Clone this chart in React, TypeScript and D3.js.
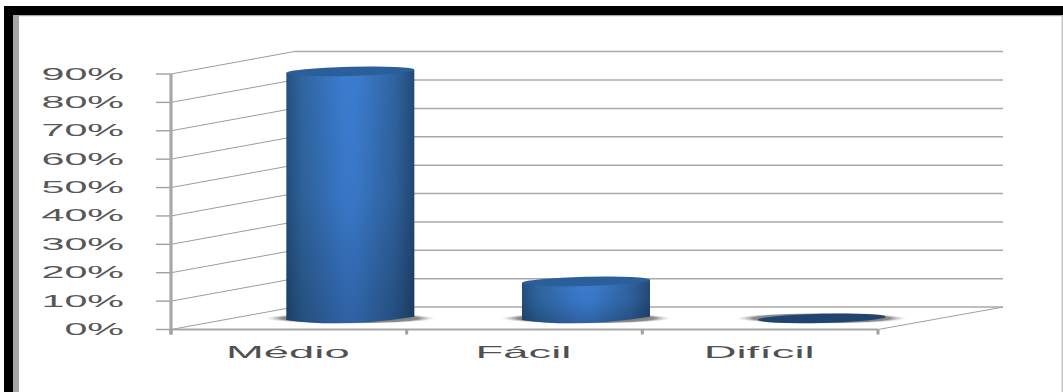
import React from "react";
import * as d3 from "d3";

const categories = ["Médio", "Fácil", "Difícil"];
const values = [87, 13, 0];
const tickValues = [0, 10, 20, 30, 40, 50, 60, 70, 80, 90];
const tickLabels = tickValues.map((t) => `${t}%`);

const WIDTH = 1063;
const HEIGHT = 392;
const DEPTH_X = 123;
const DEPTH_Y = 22.4;
const FONT = "'Liberation Sans', Arial, sans-serif";

const x = d3.scaleBand<string>().domain(categories).range([171, 878]);
const y = d3.scaleLinear().domain([0, 90]).range([329.5, 74]);

// Cylinders stand midway through the floor's depth.
const MID_X = DEPTH_X / 2;
const MID_Y = DEPTH_Y / 2;
const BAR_RX = 64;
const BAR_RY = 4.6;
const TILT = 1.6;

function cylinderBody(cx: number, topY: number, baseY: number): string {
  const p = d3.path();
  const l = cx - BAR_RX;
  const r = cx + BAR_RX;
  p.moveTo(l, topY + TILT);
  p.lineTo(l, baseY + TILT);
  p.quadraticCurveTo(cx - 10, baseY + BAR_RY * 2.1, r, baseY - TILT);
  p.lineTo(r, topY - TILT);
  p.closePath();
  return p.toString();
}

export default function App() {
  const tickEdges = [...categories.map((c) => x(c) as number), 878];
  return (
    <svg
      width={WIDTH}
      height={HEIGHT}
      viewBox={`0 0 ${WIDTH} ${HEIGHT}`}
      style={{ position: "absolute", left: 0, top: 0, display: "block", background: "#fff" }}
    >
      <defs>
        <linearGradient id="barSide" x1="0" x2="1" y1="0" y2="0">
          <stop offset="0" stopColor="#24507f" />
          <stop offset="0.12" stopColor="#2f659f" />
          <stop offset="0.45" stopColor="#3b7cd0" />
          <stop offset="0.55" stopColor="#3b7ccf" />
          <stop offset="0.85" stopColor="#2f63a0" />
          <stop offset="1" stopColor="#234a78" />
        </linearGradient>
        <linearGradient id="barFade" x1="0" x2="0" y1="0" y2="1">
          <stop offset="0" stopColor="#000" stopOpacity="0" />
          <stop offset="0.5" stopColor="#000" stopOpacity="0.05" />
          <stop offset="1" stopColor="#000" stopOpacity="0.22" />
        </linearGradient>
        <radialGradient id="floorShadow">
          <stop offset="0" stopColor="#666" />
          <stop offset="0.8" stopColor="#8c8c8c" />
          <stop offset="1" stopColor="#ddd" stopOpacity="0" />
        </radialGradient>
      </defs>

      {/* Picture frame */}
      <rect x={4} y={6} width={WIDTH - 4} height={9} fill="#000" />
      <rect x={4} y={6} width={9} height={HEIGHT - 6} fill="#000" />
      <rect x={13} y={15} width={6} height={HEIGHT - 15} fill="#a6a6a6" />
      <rect x={13} y={15} width={WIDTH - 13} height={1.2} fill="#a6a6a6" />
      <rect x={1061.5} y={15} width={1.5} height={HEIGHT - 15} fill="#c4c4c4" />

      {/* Back wall and side wall gridlines */}
      {tickValues.map((t) => (
        <g key={t} fill="none">
          <line
            x1={171 + DEPTH_X}
            x2={1003}
            y1={y(t) - DEPTH_Y}
            y2={y(t) - DEPTH_Y}
            stroke="#a8a8a8"
            strokeWidth={1.5}
          />
          <line
            x1={171}
            x2={171 + DEPTH_X}
            y1={y(t)}
            y2={y(t) - DEPTH_Y}
            stroke="#9c9c9c"
            strokeWidth={1}
          />
          <line x1={156} x2={171} y1={y(t)} y2={y(t)} stroke="#a0a0a0" strokeWidth={1.4} />
        </g>
      ))}

      {/* Floor edge and axes */}
      <line x1={878} x2={1003} y1={y(0)} y2={y(0) - DEPTH_Y} stroke="#a0a0a0" strokeWidth={1} />
      <line x1={171} x2={171} y1={y(90)} y2={y(0) + 5} stroke="#a8a8a8" strokeWidth={3.2} />
      <line x1={170} x2={878} y1={y(0)} y2={y(0)} stroke="#a8a8a8" strokeWidth={2} />
      {tickEdges.map((e) => (
        <line key={e} x1={e} x2={e} y1={y(0)} y2={y(0) + 5} stroke="#a0a0a0" strokeWidth={3} />
      ))}

      {/* Cylinders */}
      {categories.map((c, i) => {
        const cx = (x(c) as number) + x.bandwidth() / 2 + MID_X;
        const baseY = y(0) - MID_Y;
        const topY = y(values[i]) - MID_Y;
        const angle = -1.4;
        return (
          <g key={c}>
            <ellipse cx={cx} cy={baseY} rx={BAR_RX + 22} ry={5.5} fill="url(#floorShadow)" />
            {values[i] > 0 && (
              <>
                <path d={cylinderBody(cx, topY, baseY)} fill="url(#barSide)" />
                <path d={cylinderBody(cx, topY, baseY)} fill="url(#barFade)" />
              </>
            )}
            <ellipse
              cx={cx}
              cy={topY}
              rx={BAR_RX}
              ry={BAR_RY}
              fill={values[i] > 0 ? "#2b5f9b" : "#1f4470"}
              transform={`rotate(${angle} ${cx} ${topY})`}
            />
          </g>
        );
      })}

      {/* Value labels, stretched wide */}
      {tickValues.map((t, i) => (
        <text
          key={t}
          transform={`translate(124 ${y(t) + 5.5}) scale(2.5 1)`}
          textAnchor="end"
          fontFamily={FONT}
          fontSize={16.5}
          fill="#585858"
        >
          {tickLabels[i]}
        </text>
      ))}

      {/* Category labels */}
      {categories.map((c) => {
        const cx = (x(c) as number) + x.bandwidth() / 2;
        return (
          <text
            key={c}
            transform={`translate(${cx - 1} 357.5) scale(2.75 1)`}
            textAnchor="middle"
            fontFamily={FONT}
            fontSize={16.5}
            fill="#505050"
          >
            {c}
          </text>
        );
      })}
    </svg>
  );
}
